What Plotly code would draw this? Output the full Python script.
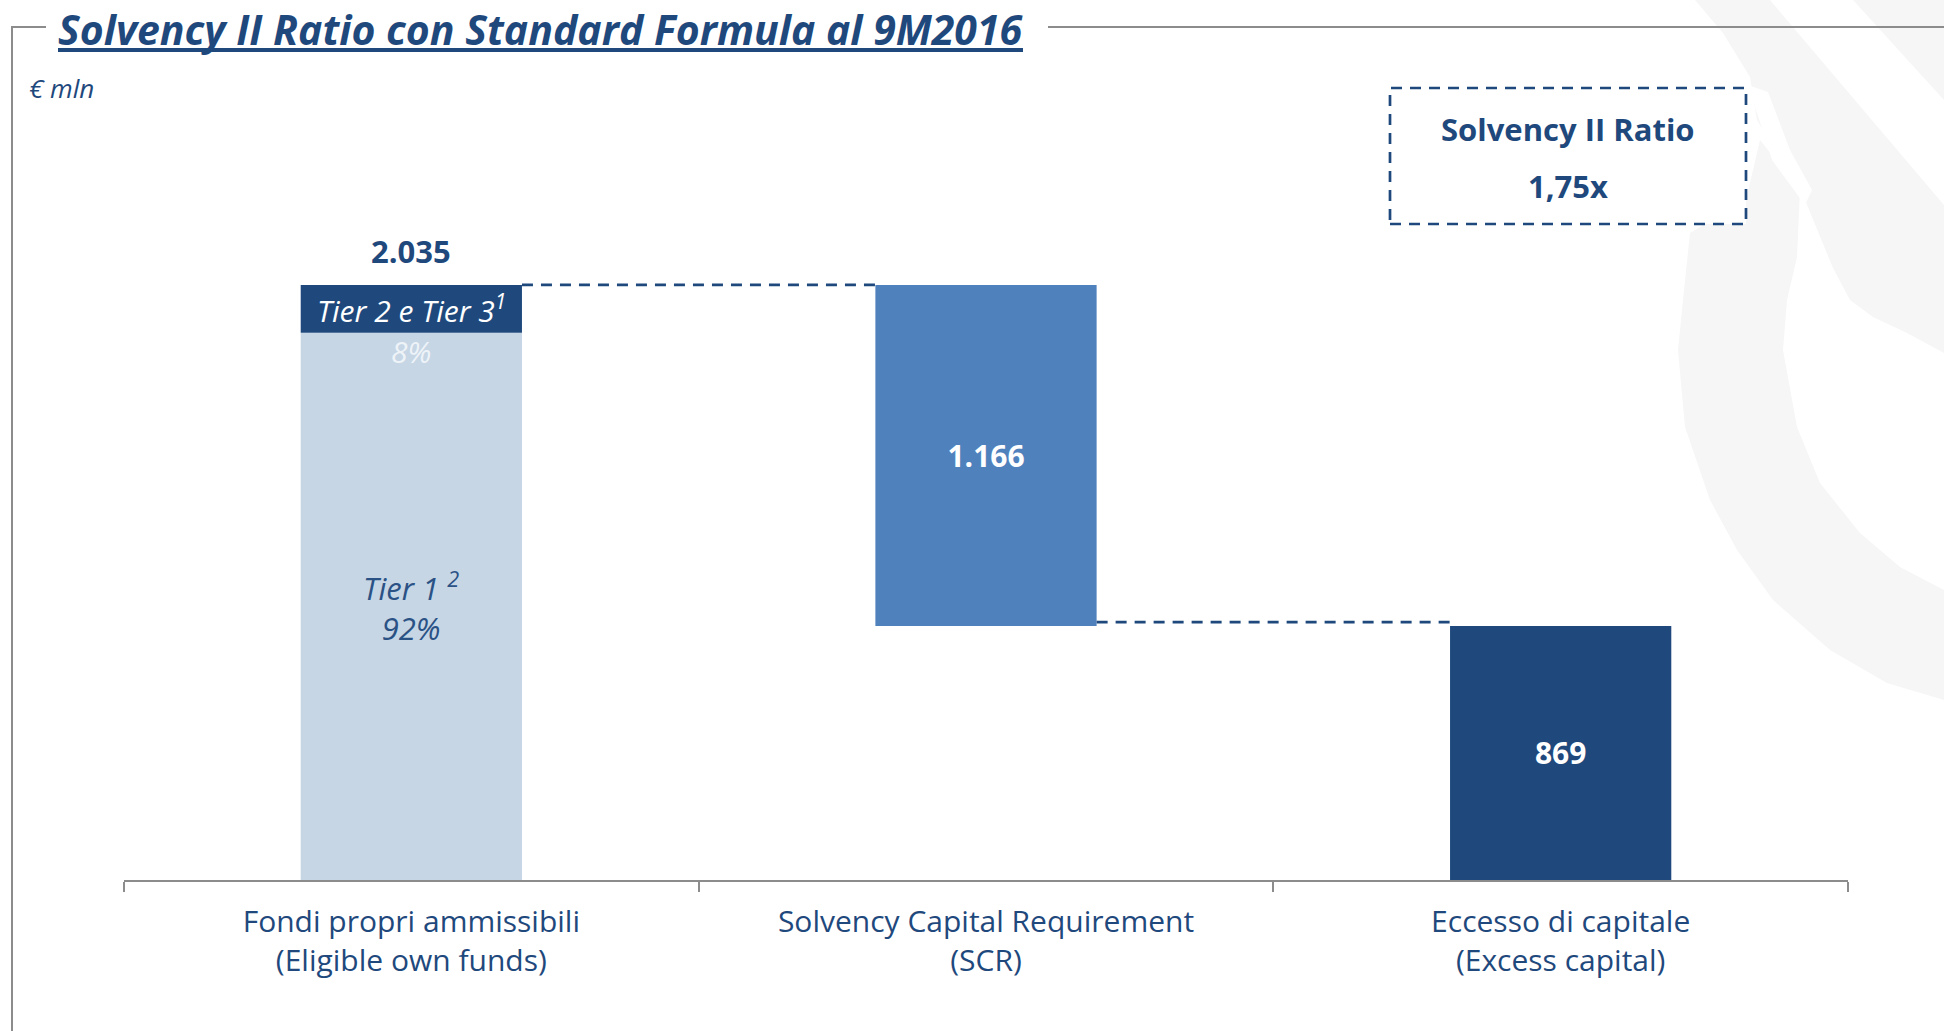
import plotly.graph_objects as go

# ---- data ----
categories = ["Fondi propri ammissibili<br>(Eligible own funds)",
              "Solvency Capital Requirement<br>(SCR)",
              "Eccesso di capitale<br>(Excess capital)"]
tier1 = 1872          # Tier 1 (92%)
tier23 = 163          # Tier 2 e Tier 3 (8%)
own_funds = 2035
scr = 1166
excess = 869
tier1_pct = "92%"
tier23_pct = "8%"
ratio_text = "1,75x"

# ---- style ----
W, H = 1944, 1031
L, R, T, B = 124, 96, 80, 151
PW, PH = W - L - R, H - T - B
BLUE = "#1F497D"
MID = "#4F81BD"
LIGHT = "#C6D6E5"
GREY = "#8C8C8C"
WM = "#F6F6F6"
FONT = "Open Sans, Lato, sans-serif"
BW = 0.385
DASH = "11px,8px"


def px(xp):
    return (xp - L) / PW


def py(yp):
    return (H - B - yp) / PH


def poly(points, closed=True):
    s = "M " + " L ".join("{:.5f} {:.5f}".format(px(a), py(b)) for a, b in points)
    return s + (" Z" if closed else "")


fig = go.Figure()
fig.add_bar(x=[categories[0]], y=[tier1], base=[0], width=BW,
            marker=dict(color=LIGHT, line=dict(width=0)), hoverinfo="skip")
fig.add_bar(x=[categories[0]], y=[tier23], base=[tier1], width=BW,
            marker=dict(color=BLUE, line=dict(width=0)), hoverinfo="skip")
fig.add_bar(x=[categories[1]], y=[scr], base=[excess], width=BW,
            marker=dict(color=MID, line=dict(width=0)),
            texttemplate="<b>%{y:,.0f}</b>", textposition="inside",
            insidetextanchor="middle",
            textfont=dict(color="white", size=30, family=FONT), hoverinfo="skip")
fig.add_bar(x=[categories[2]], y=[excess], base=[0], width=BW,
            marker=dict(color=BLUE, line=dict(width=0)),
            texttemplate="<b>%{y:,.0f}</b>", textposition="inside",
            insidetextanchor="middle",
            textfont=dict(color="white", size=30, family=FONT), hoverinfo="skip")

ann = []
ann.append(dict(x=0, y=own_funds, xref="x", yref="y", yshift=34,
                text="<b>{:,}</b>".format(own_funds).replace(",", "."),
                showarrow=False, font=dict(size=31, color=BLUE, family=FONT)))
ann.append(dict(x=0, y=tier1 + tier23 / 2, xref="x", yref="y",
                text="<i>Tier 2 e Tier 3<sup>1</sup></i>", showarrow=False,
                font=dict(size=30, color="white", family=FONT)))
ann.append(dict(x=0, y=tier1, xref="x", yref="y", yshift=-19,
                text="<i>" + tier23_pct + "</i>", showarrow=False,
                font=dict(size=30, color="#EEF3F8", family=FONT)))
ann.append(dict(x=0, y=tier1 / 2, xref="x", yref="y", yshift=0,
                text="<i>Tier 1 <sup>2</sup><br>" + tier1_pct + "</i>", showarrow=False,
                font=dict(size=31, color="#2B5285", family=FONT)))
# title
ann.append(dict(x=px(56), y=py(29), xref="paper", yref="paper", xanchor="left",
                yanchor="middle", showarrow=False,
                text="<b><i>Solvency II Ratio con Standard Formula al 9M2016</i></b>",
                font=dict(size=41, color=BLUE, family=FONT)))
ann.append(dict(x=px(27), y=py(88), xref="paper", yref="paper", xanchor="left",
                yanchor="middle", showarrow=False, text="<i>€ mln</i>",
                font=dict(size=26, color=BLUE, family=FONT)))
# ratio box texts
ann.append(dict(x=px(1568), y=py(129), xref="paper", yref="paper", showarrow=False,
                xanchor="center", yanchor="middle",
                text="<b>Solvency II Ratio</b>", font=dict(size=31, color=BLUE, family=FONT)))
ann.append(dict(x=px(1568), y=py(186), xref="paper", yref="paper", showarrow=False,
                xanchor="center", yanchor="middle",
                text="<b>" + ratio_text + "</b>", font=dict(size=31, color=BLUE, family=FONT)))

shapes = []
# ---- watermark (very light) ----
crescent = [(1690, 233), (1683, 300), (1678, 350), (1685, 427), (1710, 500), (1737, 550),
            (1773, 600), (1830, 650), (1887, 683), (1944, 700), (1944, 590), (1900, 567),
            (1860, 533), (1820, 483), (1797, 427), (1783, 350), (1787, 300), (1797, 257),
            (1800, 190), (1760, 140), (1746, 200)]
upper = [(1695, 0), (1944, 0), (1944, 353), (1907, 333), (1873, 317), (1850, 300),
         (1833, 268), (1805, 200), (1757, 120), (1750, 77), (1723, 33)]
white_a = [(1770, 0), (1853, 0), (1944, 100), (1944, 205)]
white_b = [(1748, 85), (1768, 92), (1790, 150), (1812, 190), (1805, 205), (1772, 160)]
for pts, col in ((upper, WM), (crescent, WM), (white_a, "white"), (white_b, "white")):
    shapes.append(dict(type="path", xref="paper", yref="paper", layer="below",
                       path=poly(pts), fillcolor=col, line=dict(width=0)))
# frame
shapes.append(dict(type="line", xref="paper", yref="paper", x0=px(12), x1=px(46),
                   y0=py(27), y1=py(27), line=dict(color=GREY, width=2)))
shapes.append(dict(type="line", xref="paper", yref="paper", x0=px(1048), x1=px(W),
                   y0=py(27), y1=py(27), line=dict(color=GREY, width=2)))
shapes.append(dict(type="line", xref="paper", yref="paper", x0=px(12), x1=px(12),
                   y0=py(26), y1=py(H), line=dict(color=GREY, width=2)))
# title underline
shapes.append(dict(type="line", xref="paper", yref="paper", x0=px(58), x1=px(1023),
                   y0=py(50), y1=py(50), line=dict(color=BLUE, width=4)))
# ratio box
shapes.append(dict(type="rect", xref="paper", yref="paper", x0=px(1390), x1=px(1746),
                   y0=py(224), y1=py(88), fillcolor="white", layer="below",
                   line=dict(color=BLUE, width=2.7, dash=DASH)))
# connectors
shapes.append(dict(type="line", xref="x", yref="y", x0=BW / 2, x1=1 - BW / 2,
                   y0=own_funds, y1=own_funds, line=dict(color=BLUE, width=2.7, dash=DASH)))
shapes.append(dict(type="line", xref="x", yref="y", x0=1 + BW / 2, x1=2 - BW / 2,
                   y0=excess + 13, y1=excess + 13, line=dict(color=BLUE, width=2.7, dash=DASH)))

fig.update_layout(
    width=W, height=H, margin=dict(l=L, r=R, t=T, b=B),
    paper_bgcolor="white", plot_bgcolor="rgba(0,0,0,0)",
    barmode="overlay", showlegend=False, separators=",.",
    annotations=ann, shapes=shapes,
    xaxis=dict(type="category", categoryorder="array", categoryarray=categories,
               range=[-0.5, 2.5], showgrid=False, showline=True, linecolor=GREY,
               linewidth=2, ticks="outside", tickson="boundaries", ticklen=10,
               tickwidth=1.5, tickcolor=GREY, ticklabelstandoff=14,
               tickfont=dict(size=30, color=BLUE, family=FONT), fixedrange=True),
    yaxis=dict(range=[0, (H - B - T) / 0.2924], visible=False, fixedrange=True),
)

fig.write_html("out.html", config={"displayModeBar": False},
               post_script="document.body.style.margin='0';document.body.style.overflow='hidden';")
